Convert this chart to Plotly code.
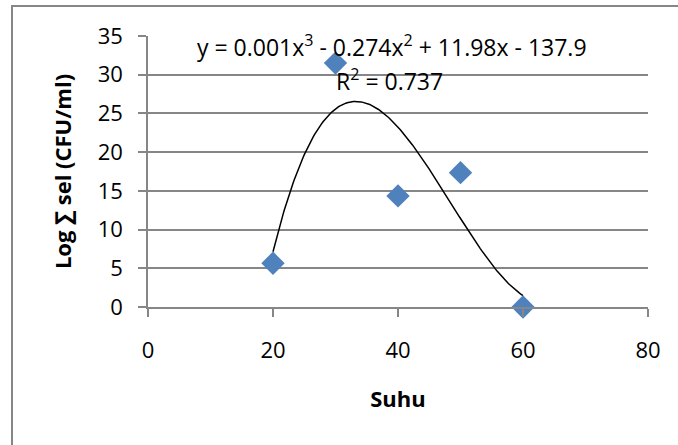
import numpy as np
import plotly.graph_objects as go

suhu = [20, 30, 40, 50, 60]
log_sel = [5.65, 31.5, 14.35, 17.35, 0.0]
x_ticks = [0, 20, 40, 60, 80]
y_ticks = [0, 5, 10, 15, 20, 25, 30, 35]
equation = "y = 0.001x<sup>3</sup> - 0.274x<sup>2</sup> + 11.98x - 137.9"
r2_text = "R<sup>2</sup> = 0.737"

coef = np.polyfit(suhu, log_sel, 3)
xs = np.linspace(min(suhu), max(suhu), 200)
ys = np.polyval(coef, xs)

FONT = "Open Sans"
W, H = 678, 445
L, R, T, B = 148, 30, 36, 138

def px(xp):
    return (xp - L) / (W - L - R)

def py(yp):
    return (H - B - yp) / (H - T - B)

fig = go.Figure()
fig.add_trace(go.Scatter(x=xs, y=ys, mode="lines",
                         line=dict(color="black", width=1.5),
                         hoverinfo="skip", showlegend=False))
fig.add_trace(go.Scatter(x=suhu, y=log_sel, mode="markers",
                         marker=dict(symbol="diamond", size=18, color="#4F81BD",
                                     line=dict(width=0)),
                         showlegend=False, cliponaxis=False))

fig.update_layout(
    width=W, height=H,
    margin=dict(l=L, r=R, t=T, b=B),
    paper_bgcolor="white", plot_bgcolor="white",
    font=dict(family=FONT, color="black"),
    xaxis=dict(range=[0, 80], tickvals=x_ticks, showgrid=False, zeroline=False,
               showline=True, linecolor="#868686", linewidth=1.5,
               ticks="outside", ticklen=8, tickcolor="#868686", tickwidth=1.5,
               tickfont=dict(size=22, family=FONT), ticklabelstandoff=15,
               title=dict(text="<b>Suhu</b>", font=dict(size=22, family=FONT), standoff=28)),
    yaxis=dict(range=[0, 35], tickvals=y_ticks, showgrid=True, gridcolor="#868686",
               gridwidth=1.5, zeroline=False,
               showline=True, linecolor="#868686", linewidth=1.5,
               ticks="outside", ticklen=8, tickcolor="#868686", tickwidth=1.5,
               tickfont=dict(size=22, family=FONT), ticklabelstandoff=11,
               title=dict(text="<b>Log ∑ sel (CFU/ml)</b>", font=dict(size=22, family=FONT), standoff=20)),
    annotations=[
        dict(text=equation, x=px(392), y=py(27), xref="paper", yref="paper",
             showarrow=False, font=dict(size=23, family=FONT)),
        dict(text=r2_text, x=px(389), y=py(61), xref="paper", yref="paper",
             showarrow=False, font=dict(size=23, family=FONT)),
    ],
    shapes=[
        dict(type="rect", xref="paper", yref="paper",
             x0=px(12), y0=py(470), x1=px(700), y1=py(6),
             line=dict(color="#868686", width=2), fillcolor="rgba(0,0,0,0)", layer="below"),
    ],
)

fig.write_html("out.html", config={"displayModeBar": False},
               post_script="document.body.style.margin='0';")
